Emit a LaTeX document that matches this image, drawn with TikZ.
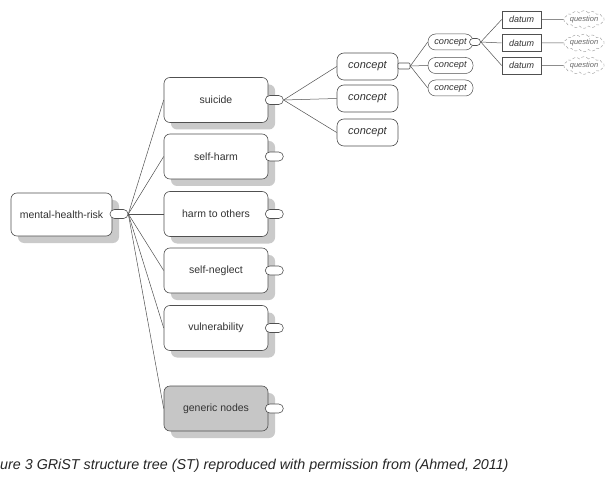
\documentclass[tikz,border=0pt]{standalone}
\usepackage{fontspec}
\usepackage{xcolor}
\usepackage{tikz}
\usetikzlibrary{positioning,shapes.symbols,shadows}
\setmainfont{Liberation Sans}
\definecolor{edge}{HTML}{505050}
\definecolor{ink}{HTML}{333333}
\definecolor{shade}{HTML}{CACACA}
\definecolor{generic}{HTML}{C6C6C6}
\tikzset{
  riskbox/.style={draw=edge,line width=0.6pt,rounded corners=6pt,fill=white,text=ink,
                  minimum width=104pt,minimum height=45pt,inner sep=0pt,font=\fontsize{10.5}{12}\selectfont,
                  drop shadow={shadow xshift=7pt,shadow yshift=-7pt,fill=shade,opacity=1}},
  tab/.style={draw=edge,line width=0.6pt,rounded corners=4.5pt,fill=white,
              minimum width=18pt,minimum height=9pt,inner sep=0pt},
  cbox/.style={draw=edge,line width=0.6pt,rounded corners=7pt,fill=white,text=ink,
               minimum width=61pt,minimum height=27pt,inner sep=0pt,font=\fontsize{11}{12}\selectfont\itshape},
  pill/.style={draw=edge,line width=0.5pt,rounded corners=7.5pt,fill=white,text=ink,
               minimum width=45pt,minimum height=16pt,inner sep=0pt,font=\fontsize{9.2}{10}\selectfont\itshape},
  datbox/.style={draw=edge,line width=0.6pt,fill=white,text=ink,
                 minimum width=39pt,minimum height=17pt,inner sep=0pt,font=\fontsize{9}{10}\selectfont\itshape},
  qcloud/.style={cloud,cloud puffs=14,cloud puff arc=110,aspect=3,draw=black!40,line width=0.4pt,
                 densely dashed,text=black!60,minimum width=32pt,minimum height=11pt,inner sep=0pt,
                 font=\fontsize{7.5}{8}\selectfont\itshape},
  link/.style={draw=edge,line width=0.5pt}
}
\begin{document}
\begin{tikzpicture}[x=1pt,y=-1pt]
  \useasboundingbox (0,0) rectangle (612,478);

  % root
  \node[riskbox,minimum width=101pt,minimum height=43pt] (mhr) at (61.5,214.5) {mental-health-risk};
  \node[tab] (mhrtab) at (119,214) {};

  % first level
  \node[riskbox] (suicide) at (216,100) {suicide};
  \node[riskbox] (selfharm) at (216,156.5) {self-harm};
  \node[riskbox] (others) at (216,214) {harm to others};
  \node[riskbox] (neglect) at (216,270.5) {self-neglect};
  \node[riskbox] (vuln) at (216,328) {vulnerability};
  \node[riskbox,fill=generic] (generic) at (216,408.5) {generic nodes};
  \foreach \n in {suicide,selfharm,others,neglect,vuln,generic}
    \node[tab] (\n tab) at ([xshift=6pt]\n.east) {};

  % concepts under suicide
  \node[cbox] (ca) at (367.5,66.5) {concept};
  \node[cbox] (cb) at (367.5,98.5) {concept};
  \node[cbox] (cc) at (367.5,132.5) {concept};
  \node[tab,minimum width=12pt,minimum height=6pt,rounded corners=1pt] (catab) at (404,66) {};

  \node[pill] (caa) at (450.5,42) {concept};
  \node[pill] (cab) at (450.5,65.5) {concept};
  \node[pill] (cac) at (450.5,88) {concept};
  \node[tab,minimum width=11pt,minimum height=7pt,rounded corners=3.5pt] (caatab) at (475,42) {};

  % data and questions
  \foreach \i/\y in {1/19.5,2/43,3/65.5} {
    \node[datbox] (dat\i) at (521.5,\y) {datum};
    \node[qcloud] (q\i) at (584,\y) {question};
    \draw[link] (dat\i) -- (q\i);
    \draw[link] (caatab.east) -- (dat\i.west);
  }

  % connectors
  \foreach \n in {suicide,selfharm,others,neglect,vuln,generic}
    \draw[link] (mhrtab.east) -- (\n.west);
  \foreach \n in {ca,cb,cc}
    \draw[link] (suicidetab.east) -- (\n.west);
  \foreach \n in {caa,cab,cac}
    \draw[link] (catab.east) -- (\n.west);

  % caption
  \node[anchor=west,inner sep=0pt,text=black!85,font=\fontsize{14.3}{16}\selectfont\itshape] (caption) at (0,466)
    {ure 3 GRiST structure tree (ST) reproduced with permission from (Ahmed, 2011)};
\end{tikzpicture}
\end{document}
